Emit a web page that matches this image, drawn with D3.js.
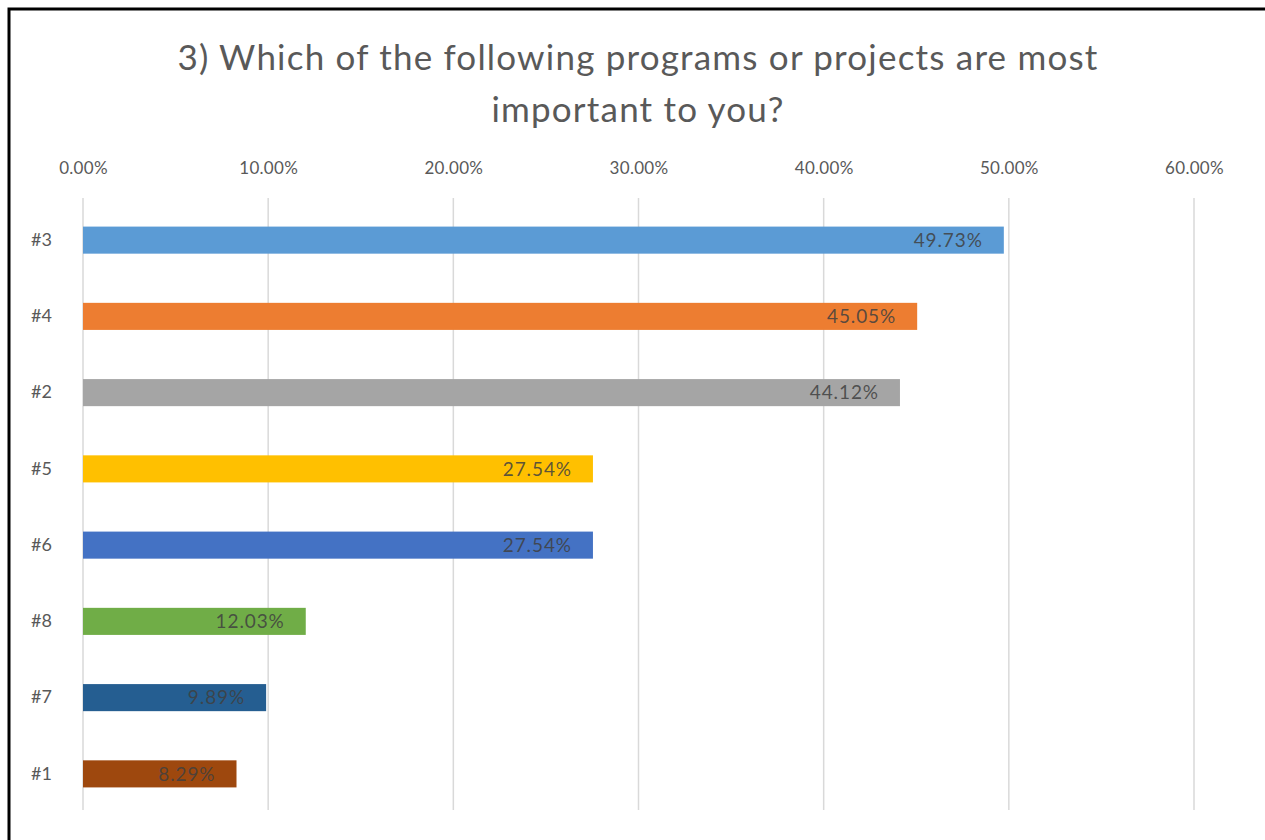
<!DOCTYPE html>
<html>
<head>
<meta charset="utf-8">
<script src="https://cdn.jsdelivr.net/npm/d3@7"></script>
<style>
  body { margin: 0; background: #fff; }
  svg { display: block; }
</style>
</head>
<body>
<div id="chart"></div>
<script>
    const categories = ["#3", "#4", "#2", "#5", "#6", "#8", "#7", "#1"];
    const values = [49.73, 45.05, 44.12, 27.54, 27.54, 12.03, 9.89, 8.29];
    const colors = ["#5B9BD5", "#ED7D31", "#A5A5A5", "#FFC000", "#4472C4", "#70AD47", "#255E91", "#9E480E"];
    const ticks = [0, 10, 20, 30, 40, 50, 60];
    const titleLines = ["3) Which of the following programs or projects are most", "important to you?"];

    const W = 1265, H = 840;
    const font = "Lato, 'Open Sans', sans-serif";

    const svg = d3.select("#chart").append("svg")
        .attr("width", W)
        .attr("height", H);

    // outer frame (black border)
    svg.append("rect")
        .attr("x", 9).attr("y", 9)
        .attr("width", W + 10).attr("height", H + 10)
        .attr("fill", "#fff")
        .attr("stroke", "#000")
        .attr("stroke-width", 3);

    const x = d3.scaleLinear().domain([0, 60]).range([83, 1194]);
    const y = d3.scaleBand().domain(categories).range([202, 812])
        .paddingInner(0.645).paddingOuter(0.3225);

    // title
    svg.append("g").selectAll("text")
        .data(titleLines)
        .enter().append("text")
        .attr("x", 638)
        .attr("y", (d, i) => 70 + i * 52)
        .attr("text-anchor", "middle")
        .style("font-family", font)
        .style("font-size", "35px")
        .style("letter-spacing", "1.2px")
        .style("fill", "#595959")
        .text(d => d);

    // gridlines
    svg.append("g").selectAll("line")
        .data(ticks)
        .enter().append("line")
        .attr("x1", d => x(d)).attr("x2", d => x(d))
        .attr("y1", 198).attr("y2", 810)
        .attr("stroke", "#d9d9d9")
        .attr("stroke-width", 1.5);

    // top axis labels
    const xAxis = svg.append("g")
        .attr("transform", "translate(0,174)")
        .call(d3.axisTop(x).tickValues(ticks).tickSize(0).tickPadding(0).tickFormat(d => d.toFixed(2) + "%"));
    xAxis.select(".domain").remove();
    xAxis.selectAll("text")
        .style("font-family", font)
        .style("font-size", "17px")
        .style("letter-spacing", "0.3px")
        .style("fill", "#595959");

    // left axis labels
    const yAxis = svg.append("g")
        .attr("transform", "translate(52,0)")
        .call(d3.axisLeft(y).tickSize(0).tickPadding(0));
    yAxis.select(".domain").remove();
    yAxis.selectAll("text")
        .style("font-family", font)
        .style("font-size", "18px")
        .style("fill", "#595959");

    // bars
    svg.append("g").selectAll("rect")
        .data(categories)
        .enter().append("rect")
        .attr("x", x(0))
        .attr("y", d => y(d))
        .attr("width", (d, i) => x(values[i]) - x(0))
        .attr("height", y.bandwidth())
        .attr("fill", (d, i) => colors[i]);

    // value labels (inside end)
    svg.append("g").selectAll("text")
        .data(categories)
        .enter().append("text")
        .attr("x", (d, i) => x(values[i]) - 21)
        .attr("y", d => y(d) + y.bandwidth() / 2)
        .attr("dy", "0.35em")
        .attr("text-anchor", "end")
        .style("font-family", font)
        .style("font-size", "19px")
        .style("letter-spacing", "0.9px")
        .style("fill", "#404040")
        .style("fill-opacity", 0.85)
        .text((d, i) => values[i].toFixed(2) + "%");
</script>
</body>
</html>
